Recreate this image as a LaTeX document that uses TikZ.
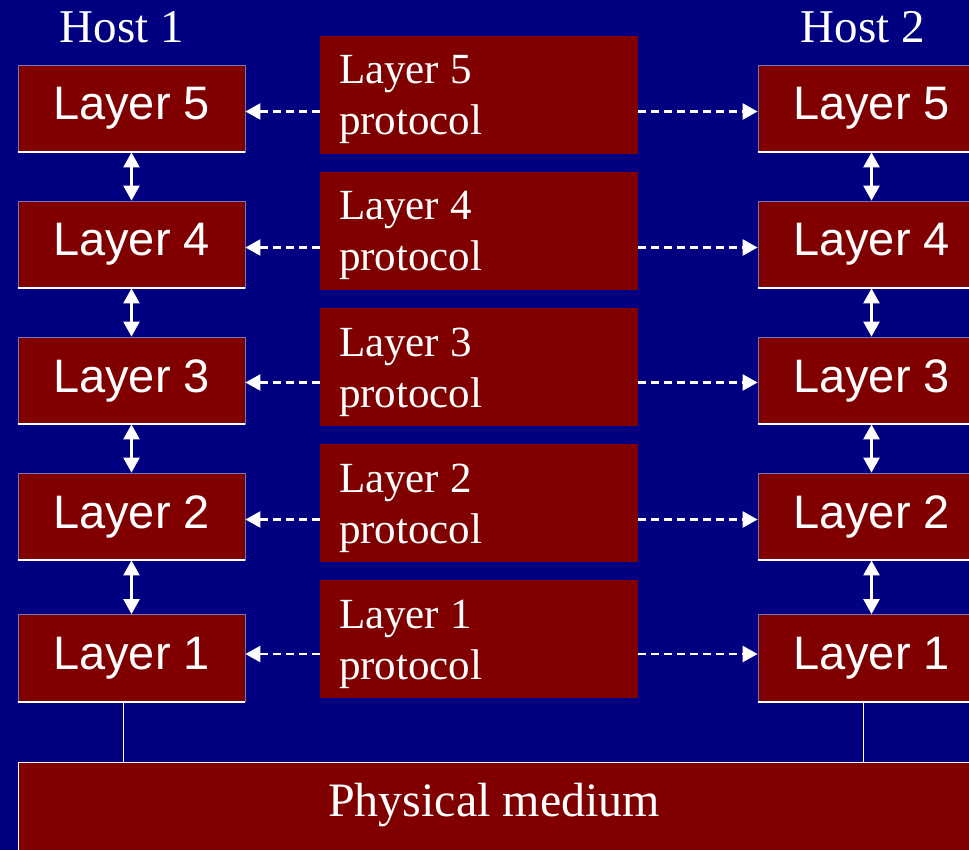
\documentclass[tikz,border=0pt]{standalone}
\usepackage{fontspec}
\setmainfont{Liberation Serif}
\setsansfont{Liberation Sans}
\usetikzlibrary{arrows.meta}
\definecolor{navy}{HTML}{000080}
\definecolor{maroon}{HTML}{800000}
\begin{document}
\begin{tikzpicture}[x=1pt,y=-1pt,
		layerbox/.style={fill=maroon,draw=white!45!navy,line width=0.8pt,minimum width=227pt,minimum height=87pt,inner sep=0pt,text=white,font=\sffamily\fontsize{47}{56}\selectfont},
		protobox/.style={fill=maroon,text width=280pt,inner xsep=19pt,inner ysep=0pt,minimum height=118pt,text height=38pt,text depth=60pt,align=left,text=white,font=\fontsize{43}{51}\selectfont},
		updown/.style={white,line width=2.5pt,{Triangle[length=15pt,width=16pt]}-{Triangle[length=15pt,width=16pt]}},
		peer/.style={white,line width=2.5pt,dash pattern=on 8pt off 5pt,-{Triangle[length=15pt,width=16pt]}}]
		\fill[navy] (0,0) rectangle (969,850);
		\clip (0,0) rectangle (969,850);
		\node[name=host1,text=white,font=\fontsize{47}{56}\selectfont] at (122,27.5){Host 1};
		\node[name=host2,text=white,font=\fontsize{47}{56}\selectfont] at (863,27.5){Host 2};
		\foreach \i/\y/\py/\s in {5/108.5/95/-3,4/244.5/231/-3,3/380.5/367/-2,2/516.5/503/-3,1/658/639/4}{
			\node[layerbox,name=l\i] at (131.5,\y){Layer \i};
			\node[layerbox,name=r\i] at (871.5,\y){Layer \i};
			\node[protobox,name=p\i] at (479,\py){Layer\hspace{0.25em}\i\\protocol};
			\draw[white,line width=2pt] (l\i.south west)--(l\i.south east)(r\i.south west)--(r\i.south east);
			\draw[peer] ([yshift=\s pt]p\i.west |- l\i.east)--([yshift=\s pt]l\i.east);
			\draw[peer] ([yshift=\s pt]p\i.east |- r\i.west)--([yshift=\s pt]r\i.west);
		}
		\foreach \a/\b in {5/4,4/3,3/2,2/1}{
			\draw[updown] (l\a)--(l\b);
			\draw[updown] (r\a)--(r\b);
		}
		\node[name=phys,fill=maroon,draw=white,line width=0.8pt,minimum width=952pt,minimum height=90pt,inner sep=0pt,text depth=14pt,text=white,font=\fontsize{48}{56}\selectfont] at (494,807){Physical medium};
		\draw[white,line width=1pt] ([xshift=-8pt]l1.south)--([xshift=-8pt]l1.south |- phys.north);
		\draw[white,line width=1pt] ([xshift=-8pt]r1.south)--([xshift=-8pt]r1.south |- phys.north);
	\end{tikzpicture}
\end{document}
